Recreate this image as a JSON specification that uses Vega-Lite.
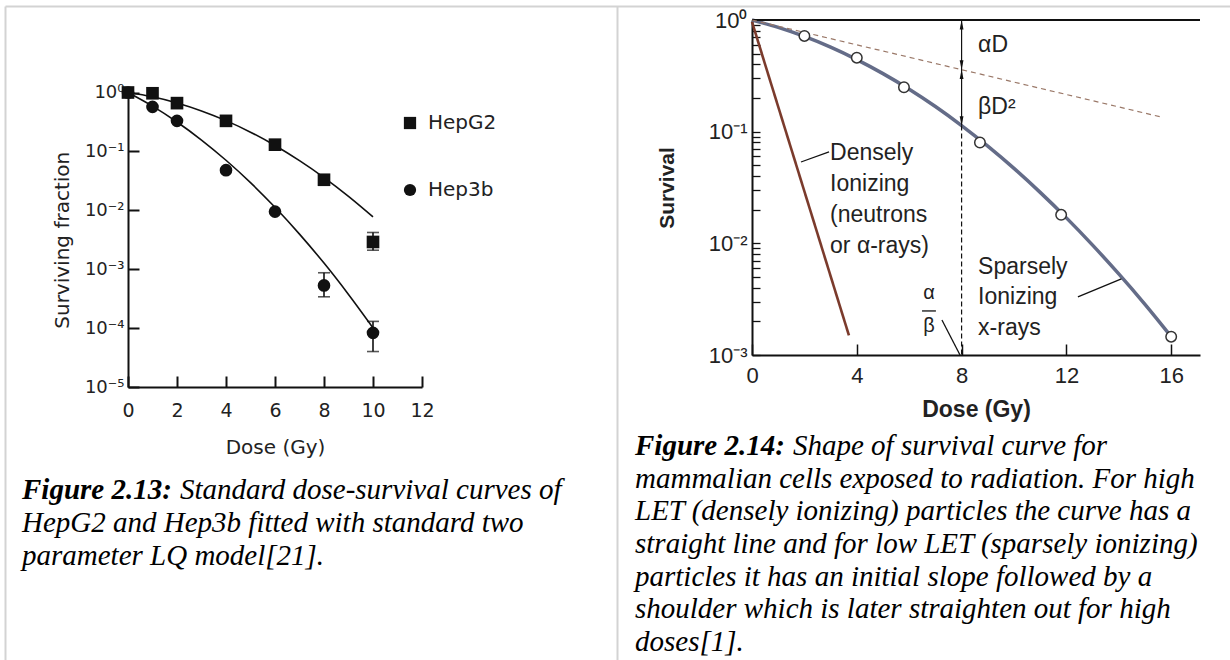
{
 "$schema": "https://vega.github.io/schema/vega-lite/v6.json",
 "background": "white",
 "width": 1230,
 "height": 660,
 "autosize": {"type": "none"},
 "padding": 0,
 "config": {"view": {"stroke": null}, "axis": {"grid": false}},
 "datasets": {
  "frame": [{"fx": 0, "fy": 0}],
  "fitL": [
   {"cell":"HepG2","dose":0,"sf":1},{"cell":"HepG2","dose":1,"sf":0.845},{"cell":"HepG2","dose":2,"sf":0.664},{"cell":"HepG2","dose":3,"sf":0.487},{"cell":"HepG2","dose":4,"sf":0.333},{"cell":"HepG2","dose":5,"sf":0.212},{"cell":"HepG2","dose":6,"sf":0.126},{"cell":"HepG2","dose":7,"sf":0.0697},{"cell":"HepG2","dose":8,"sf":0.036},{"cell":"HepG2","dose":9,"sf":0.0173},{"cell":"HepG2","dose":10,"sf":0.00775},
   {"cell":"Hep3b","dose":0,"sf":1},{"cell":"Hep3b","dose":1,"sf":0.587},{"cell":"Hep3b","dose":2,"sf":0.316},{"cell":"Hep3b","dose":3,"sf":0.156},{"cell":"Hep3b","dose":4,"sf":0.0708},{"cell":"Hep3b","dose":5,"sf":0.0295},{"cell":"Hep3b","dose":6,"sf":0.01125},{"cell":"Hep3b","dose":7,"sf":0.00394},{"cell":"Hep3b","dose":8,"sf":0.00127},{"cell":"Hep3b","dose":9,"sf":0.000373},{"cell":"Hep3b","dose":10,"sf":0.000101}
  ],
  "ptsL": [
   {"cell":"Hep3b","dose":0,"sf":1},{"cell":"Hep3b","dose":1,"sf":0.57},{"cell":"Hep3b","dose":2,"sf":0.33},{"cell":"Hep3b","dose":4,"sf":0.048},{"cell":"Hep3b","dose":6,"sf":0.0095},{"cell":"Hep3b","dose":8,"sf":0.00053},{"cell":"Hep3b","dose":10,"sf":0.000083},
   {"cell":"HepG2","dose":0,"sf":1},{"cell":"HepG2","dose":1,"sf":0.97},{"cell":"HepG2","dose":2,"sf":0.66},{"cell":"HepG2","dose":4,"sf":0.33},{"cell":"HepG2","dose":6,"sf":0.13},{"cell":"HepG2","dose":8,"sf":0.033},{"cell":"HepG2","dose":10,"sf":0.0029}
  ],
  "errL": [
   {"cell":"HepG2","dose":10,"lo":0.0021,"hi":0.0042},
   {"cell":"Hep3b","dose":8,"lo":0.00034,"hi":0.00087},
   {"cell":"Hep3b","dose":10,"lo":0.00004,"hi":0.00013}
  ],
  "sparse": [
   {"dose":0,"s":1},{"dose":1,"s":0.858},{"dose":2,"s":0.712},{"dose":3,"s":0.571},{"dose":4,"s":0.442},{"dose":5,"s":0.331},{"dose":6,"s":0.24},{"dose":7,"s":0.168},{"dose":8,"s":0.1135},{"dose":9,"s":0.0742},{"dose":10,"s":0.0469},{"dose":11,"s":0.0286},{"dose":12,"s":0.0169},{"dose":13,"s":0.00964},{"dose":14,"s":0.00532},{"dose":15,"s":0.00284},{"dose":16,"s":0.00146}
  ],
  "circlesR": [
   {"dose":2.0,"s":0.72},{"dose":4.0,"s":0.46},{"dose":5.8,"s":0.25},{"dose":8.7,"s":0.08},{"dose":11.8,"s":0.018},{"dose":16.0,"s":0.00146}
  ],
  "dense": [{"dose":0,"s":0.96},{"dose":3.7,"s":0.0015}],
  "alphaLine": [{"dose":0,"s":1},{"dose":15.7,"s":0.134}],
  "topLine": [{"d1":0,"d2":17.1,"s":1}],
  "vdash": [{"dose":8,"s1":0.1135,"s2":0.001}],
  "shaft": [{"dose":8,"s1":1,"s2":0.1135}],
  "arrowUp": [{"dose":8,"s":0.908},{"dose":8,"s":0.326}],
  "arrowDown": [{"dose":8,"s":0.396},{"dose":8,"s":0.1247}],
  "leaders": [
   {"d1":1.87,"s1":0.0535,"d2":2.94,"s2":0.0658},
   {"d1":12.44,"s1":0.00331,"d2":14.1,"s2":0.0048},
   {"d1":7.25,"s1":0.00206,"d2":7.94,"s2":0.001},
   {"d1":6.49,"s1":0.00248,"d2":7.02,"s2":0.00248}
  ],
  "labelsR": [
   {"text":"αD","dose":8.63,"s":0.597},
   {"text":"βD²","dose":8.63,"s":0.166},
   {"text":"Densely","dose":2.98,"s":0.0644},
   {"text":"Ionizing","dose":2.98,"s":0.034},
   {"text":"(neutrons","dose":2.98,"s":0.018},
   {"text":"or α-rays)","dose":2.98,"s":0.00948},
   {"text":"Sparsely","dose":8.63,"s":0.00615},
   {"text":"Ionizing","dose":8.63,"s":0.00331},
   {"text":"x-rays","dose":8.63,"s":0.00175}
  ],
  "fracR": [
   {"text":"α","dose":6.76,"s":0.0036},
   {"text":"β","dose":6.76,"s":0.00182}
  ],
  "capL": [
   {"line":0,"indent":0,"bold":true,"text":"Figure 2.13:"},
   {"line":0,"indent":1,"bold":false,"text":"Standard dose-survival curves of"},
   {"line":1,"indent":0,"bold":false,"text":"HepG2 and Hep3b fitted with standard two"},
   {"line":2,"indent":0,"bold":false,"text":"parameter LQ model[21]."}
  ],
  "capR": [
   {"line":0,"indent":0,"bold":true,"text":"Figure 2.14:"},
   {"line":0,"indent":1,"bold":false,"text":"Shape of survival curve for"},
   {"line":1,"indent":0,"bold":false,"text":"mammalian cells exposed to radiation. For high"},
   {"line":2,"indent":0,"bold":false,"text":"LET (densely ionizing) particles the curve has a"},
   {"line":3,"indent":0,"bold":false,"text":"straight line and for low LET (sparsely ionizing)"},
   {"line":4,"indent":0,"bold":false,"text":"particles it has an initial slope followed by a"},
   {"line":5,"indent":0,"bold":false,"text":"shoulder which is later straighten out for high"},
   {"line":6,"indent":0,"bold":false,"text":"doses[1]."}
  ]
 },
 "resolve": {"scale": {"x": "independent", "y": "independent"}, "axis": {"x": "independent", "y": "independent"}},
 "layer": [
  {"data": {"name": "frame"},
   "mark": {"type": "point", "opacity": 0},
   "encoding": {
    "x": {"field": "fx", "type": "quantitative", "scale": {"domain": [0, 1], "range": [5, 1230], "nice": false, "zero": false},
          "axis": {"orient": "top", "offset": -6, "domainColor": "#d3d3d3", "domainWidth": 2, "ticks": false, "labels": false, "title": null}},
    "y": {"field": "fy", "type": "quantitative", "scale": {"domain": [0, 1], "range": [660, 6], "nice": false, "zero": false},
          "axis": {"orient": "left", "offset": -5, "domainColor": "#d3d3d3", "domainWidth": 2, "ticks": false, "labels": false, "title": null}}
   }},
  {"data": {"name": "frame"},
   "mark": {"type": "point", "opacity": 0},
   "encoding": {
    "x": {"field": "fx", "type": "quantitative", "scale": {"domain": [0, 1], "range": [5, 1230], "nice": false, "zero": false}, "axis": null},
    "y": {"field": "fy", "type": "quantitative", "scale": {"domain": [0, 1], "range": [660, 6], "nice": false, "zero": false},
          "axis": {"orient": "left", "offset": -617, "domainColor": "#d3d3d3", "domainWidth": 2, "ticks": false, "labels": false, "title": null}}
   }},
  {"layer": [
    {"data": {"name": "fitL"},
     "mark": {"type": "line", "color": "#111", "strokeWidth": 1.6, "interpolate": "monotone"},
     "encoding": {
      "x": {"field": "dose", "type": "quantitative", "title": "Dose (Gy)", "scale": {"domain": [0, 12], "range": [128, 422], "nice": false, "zero": false},
            "axis": {"orient": "bottom", "offset": -273, "values": [0,2,4,6,8,10,12], "format": "d", "labelFlush": false, "labelOverlap": false, "tickSize": -11, "tickWidth": 2, "domainWidth": 2, "domainColor": "#111", "tickColor": "#111", "labelPadding": 25, "labelFont": "DejaVu Sans", "labelFontSize": 19, "labelColor": "#222", "titleFont": "DejaVu Sans", "titleFontSize": 20, "titleFontWeight": "normal", "titleColor": "#222", "titlePadding": 17}},
      "y": {"field": "sf", "type": "quantitative", "title": "Surviving fraction", "scale": {"type": "log", "domain": [0.00001, 1], "range": [387, 92.5], "nice": false},
            "axis": {"orient": "left", "offset": -128, "values": [0.00001,0.0001,0.001,0.01,0.1,1], "labelFlush": false, "labelOverlap": false, "tickSize": -11, "tickWidth": 2, "domainWidth": 2, "domainColor": "#111", "tickColor": "#111", "labelPadding": 15, "labelFont": "DejaVu Sans", "labelFontSize": 18, "labelColor": "#222", "labelExpr": "datum.value >= 0.99 ? '10⁰' : datum.value >= 0.099 ? '10⁻¹' : datum.value >= 0.0099 ? '10⁻²' : datum.value >= 0.00099 ? '10⁻³' : datum.value >= 0.000099 ? '10⁻⁴' : '10⁻⁵'", "titleFont": "DejaVu Sans", "titleFontSize": 20, "titleFontWeight": "normal", "titleColor": "#222", "titlePadding": 12}},
      "detail": {"field": "cell", "type": "nominal"}
     }},
    {"data": {"name": "errL"},
     "mark": {"type": "errorbar", "ticks": true, "size": 12, "thickness": 1.6, "color": "#111"},
     "encoding": {
      "x": {"field": "dose", "type": "quantitative", "title": "Dose (Gy)"},
      "y": {"field": "lo", "type": "quantitative", "title": "Surviving fraction"},
      "y2": {"field": "hi"}
     }},
    {"data": {"name": "ptsL"},
     "mark": {"type": "point", "filled": true, "opacity": 1, "size": 160, "color": "#111"},
     "encoding": {
      "x": {"field": "dose", "type": "quantitative", "title": "Dose (Gy)"},
      "y": {"field": "sf", "type": "quantitative", "title": "Surviving fraction"},
      "shape": {"field": "cell", "type": "nominal", "sort": null,
                "scale": {"domain": ["HepG2", "Hep3b"], "range": ["square", "circle"]},
                "legend": {"title": null, "orient": "none", "legendX": 400, "legendY": 113, "padding": 0, "rowPadding": 47, "symbolSize": 150, "symbolFillColor": "#111", "symbolStrokeColor": "#111", "symbolStrokeWidth": 0, "labelFont": "DejaVu Sans", "labelFontSize": 20, "labelColor": "#222", "labelOffset": 8}}
     }}
  ]},
  {"layer": [
    {"data": {"name": "sparse"},
     "mark": {"type": "line", "color": "#646c88", "strokeWidth": 3.5, "interpolate": "monotone"},
     "encoding": {
      "x": {"field": "dose", "type": "quantitative", "title": "Dose (Gy)", "scale": {"domain": [0, 17.1], "range": [752, 1200], "nice": false, "zero": false},
            "axis": {"orient": "bottom", "offset": -305, "values": [0,4,8,12,16], "format": "d", "labelFlush": false, "labelOverlap": false, "tickSize": -11, "tickWidth": 1.5, "domainWidth": 2, "domainColor": "#111", "tickColor": "#111", "labelPadding": 21, "labelFont": "Liberation Sans", "labelFontSize": 22, "labelColor": "#222", "titleFont": "Liberation Sans", "titleFontSize": 23, "titleFontWeight": "bold", "titleColor": "#222", "titlePadding": 12}},
      "y": {"field": "s", "type": "quantitative", "title": "Survival", "scale": {"type": "log", "domain": [0.001, 1], "range": [355, 20], "nice": false},
            "axis": {"orient": "left", "offset": -752, "values": [0.001,0.002,0.003,0.004,0.005,0.006,0.007,0.008,0.009,0.01,0.02,0.03,0.04,0.05,0.06,0.07,0.08,0.09,0.1,0.2,0.3,0.4,0.5,0.6,0.7,0.8,0.9,1], "tickSize": -8, "tickWidth": 1.3, "domainWidth": 2, "domainColor": "#111", "tickColor": "#111", "labelPadding": 13, "labelOverlap": false, "labelFlush": false, "labelFont": "Liberation Sans", "labelFontSize": 22, "labelColor": "#222", "labelExpr": "datum.value >= 0.99 ? '10⁰' : abs(datum.value - 0.1) < 1e-9 ? '10⁻¹' : abs(datum.value - 0.01) < 1e-10 ? '10⁻²' : abs(datum.value - 0.001) < 1e-11 ? '10⁻³' : ''", "titleFont": "Liberation Sans", "titleFontSize": 21, "titleFontWeight": "bold", "titleColor": "#222", "titlePadding": 31}}
     }},
    {"data": {"name": "topLine"},
     "mark": {"type": "rule", "color": "#111", "strokeWidth": 2},
     "encoding": {"x": {"field": "d1", "type": "quantitative", "title": "Dose (Gy)"}, "x2": {"field": "d2"}, "y": {"field": "s", "type": "quantitative", "title": "Survival"}}},
    {"data": {"name": "alphaLine"},
     "mark": {"type": "line", "color": "#9a7868", "strokeWidth": 1.2, "strokeDash": [5, 4]},
     "encoding": {"x": {"field": "dose", "type": "quantitative", "title": "Dose (Gy)"}, "y": {"field": "s", "type": "quantitative", "title": "Survival"}}},
    {"data": {"name": "dense"},
     "mark": {"type": "line", "color": "#7b3b2c", "strokeWidth": 2.6},
     "encoding": {"x": {"field": "dose", "type": "quantitative", "title": "Dose (Gy)"}, "y": {"field": "s", "type": "quantitative", "title": "Survival"}}},
    {"data": {"name": "vdash"},
     "mark": {"type": "rule", "color": "#111", "strokeWidth": 1.2, "strokeDash": [5, 3]},
     "encoding": {"x": {"field": "dose", "type": "quantitative", "title": "Dose (Gy)"}, "y": {"field": "s1", "type": "quantitative", "title": "Survival"}, "y2": {"field": "s2"}}},
    {"data": {"name": "shaft"},
     "mark": {"type": "rule", "color": "#111", "strokeWidth": 1.2},
     "encoding": {"x": {"field": "dose", "type": "quantitative", "title": "Dose (Gy)"}, "y": {"field": "s1", "type": "quantitative", "title": "Survival"}, "y2": {"field": "s2"}}},
    {"data": {"name": "arrowUp"},
     "mark": {"type": "point", "shape": "M0,-1L0.4,1L-0.4,1Z", "filled": true, "opacity": 1, "size": 90, "color": "#111"},
     "encoding": {"x": {"field": "dose", "type": "quantitative", "title": "Dose (Gy)"}, "y": {"field": "s", "type": "quantitative", "title": "Survival"}}},
    {"data": {"name": "arrowDown"},
     "mark": {"type": "point", "shape": "M0,1L0.4,-1L-0.4,-1Z", "filled": true, "opacity": 1, "size": 90, "color": "#111"},
     "encoding": {"x": {"field": "dose", "type": "quantitative", "title": "Dose (Gy)"}, "y": {"field": "s", "type": "quantitative", "title": "Survival"}}},
    {"data": {"name": "circlesR"},
     "mark": {"type": "point", "filled": true, "fill": "white", "stroke": "#333", "strokeWidth": 1.5, "opacity": 1, "size": 110},
     "encoding": {"x": {"field": "dose", "type": "quantitative", "title": "Dose (Gy)"}, "y": {"field": "s", "type": "quantitative", "title": "Survival"}}},
    {"data": {"name": "leaders"},
     "mark": {"type": "rule", "color": "#111", "strokeWidth": 1.3},
     "encoding": {"x": {"field": "d1", "type": "quantitative", "title": "Dose (Gy)"}, "x2": {"field": "d2"}, "y": {"field": "s1", "type": "quantitative", "title": "Survival"}, "y2": {"field": "s2"}}},
    {"data": {"name": "labelsR"},
     "mark": {"type": "text", "align": "left", "baseline": "middle", "font": "Liberation Sans", "fontSize": 23, "color": "#222"},
     "encoding": {"x": {"field": "dose", "type": "quantitative", "title": "Dose (Gy)"}, "y": {"field": "s", "type": "quantitative", "title": "Survival"}, "text": {"field": "text"}}},
    {"data": {"name": "fracR"},
     "mark": {"type": "text", "align": "center", "baseline": "middle", "font": "Liberation Sans", "fontSize": 20, "color": "#222"},
     "encoding": {"x": {"field": "dose", "type": "quantitative", "title": "Dose (Gy)"}, "y": {"field": "s", "type": "quantitative", "title": "Survival"}, "text": {"field": "text"}}}
  ]},
  {"data": {"name": "capL"},
   "encoding": {
    "x": {"field": "indent", "type": "quantitative", "scale": {"domain": [0, 1], "range": [22, 180], "nice": false, "zero": false}, "axis": null},
    "y": {"field": "line", "type": "quantitative", "scale": {"domain": [0, 2], "range": [490, 556], "nice": false, "zero": false}, "axis": null},
    "text": {"field": "text"}
   },
   "layer": [
    {"transform": [{"filter": "datum.bold"}], "mark": {"type": "text", "align": "left", "baseline": "middle", "font": "Liberation Serif", "fontSize": 29, "fontStyle": "italic", "fontWeight": "bold", "color": "#000"}},
    {"transform": [{"filter": "!datum.bold"}], "mark": {"type": "text", "align": "left", "baseline": "middle", "font": "Liberation Serif", "fontSize": 29, "fontStyle": "italic", "color": "#000"}}
   ]},
  {"data": {"name": "capR"},
   "encoding": {
    "x": {"field": "indent", "type": "quantitative", "scale": {"domain": [0, 1], "range": [635, 793], "nice": false, "zero": false}, "axis": null},
    "y": {"field": "line", "type": "quantitative", "scale": {"domain": [0, 6], "range": [446, 642], "nice": false, "zero": false}, "axis": null},
    "text": {"field": "text"}
   },
   "layer": [
    {"transform": [{"filter": "datum.bold"}], "mark": {"type": "text", "align": "left", "baseline": "middle", "font": "Liberation Serif", "fontSize": 29, "fontStyle": "italic", "fontWeight": "bold", "color": "#000"}},
    {"transform": [{"filter": "!datum.bold"}], "mark": {"type": "text", "align": "left", "baseline": "middle", "font": "Liberation Serif", "fontSize": 29, "fontStyle": "italic", "color": "#000"}}
   ]}
 ]
}
